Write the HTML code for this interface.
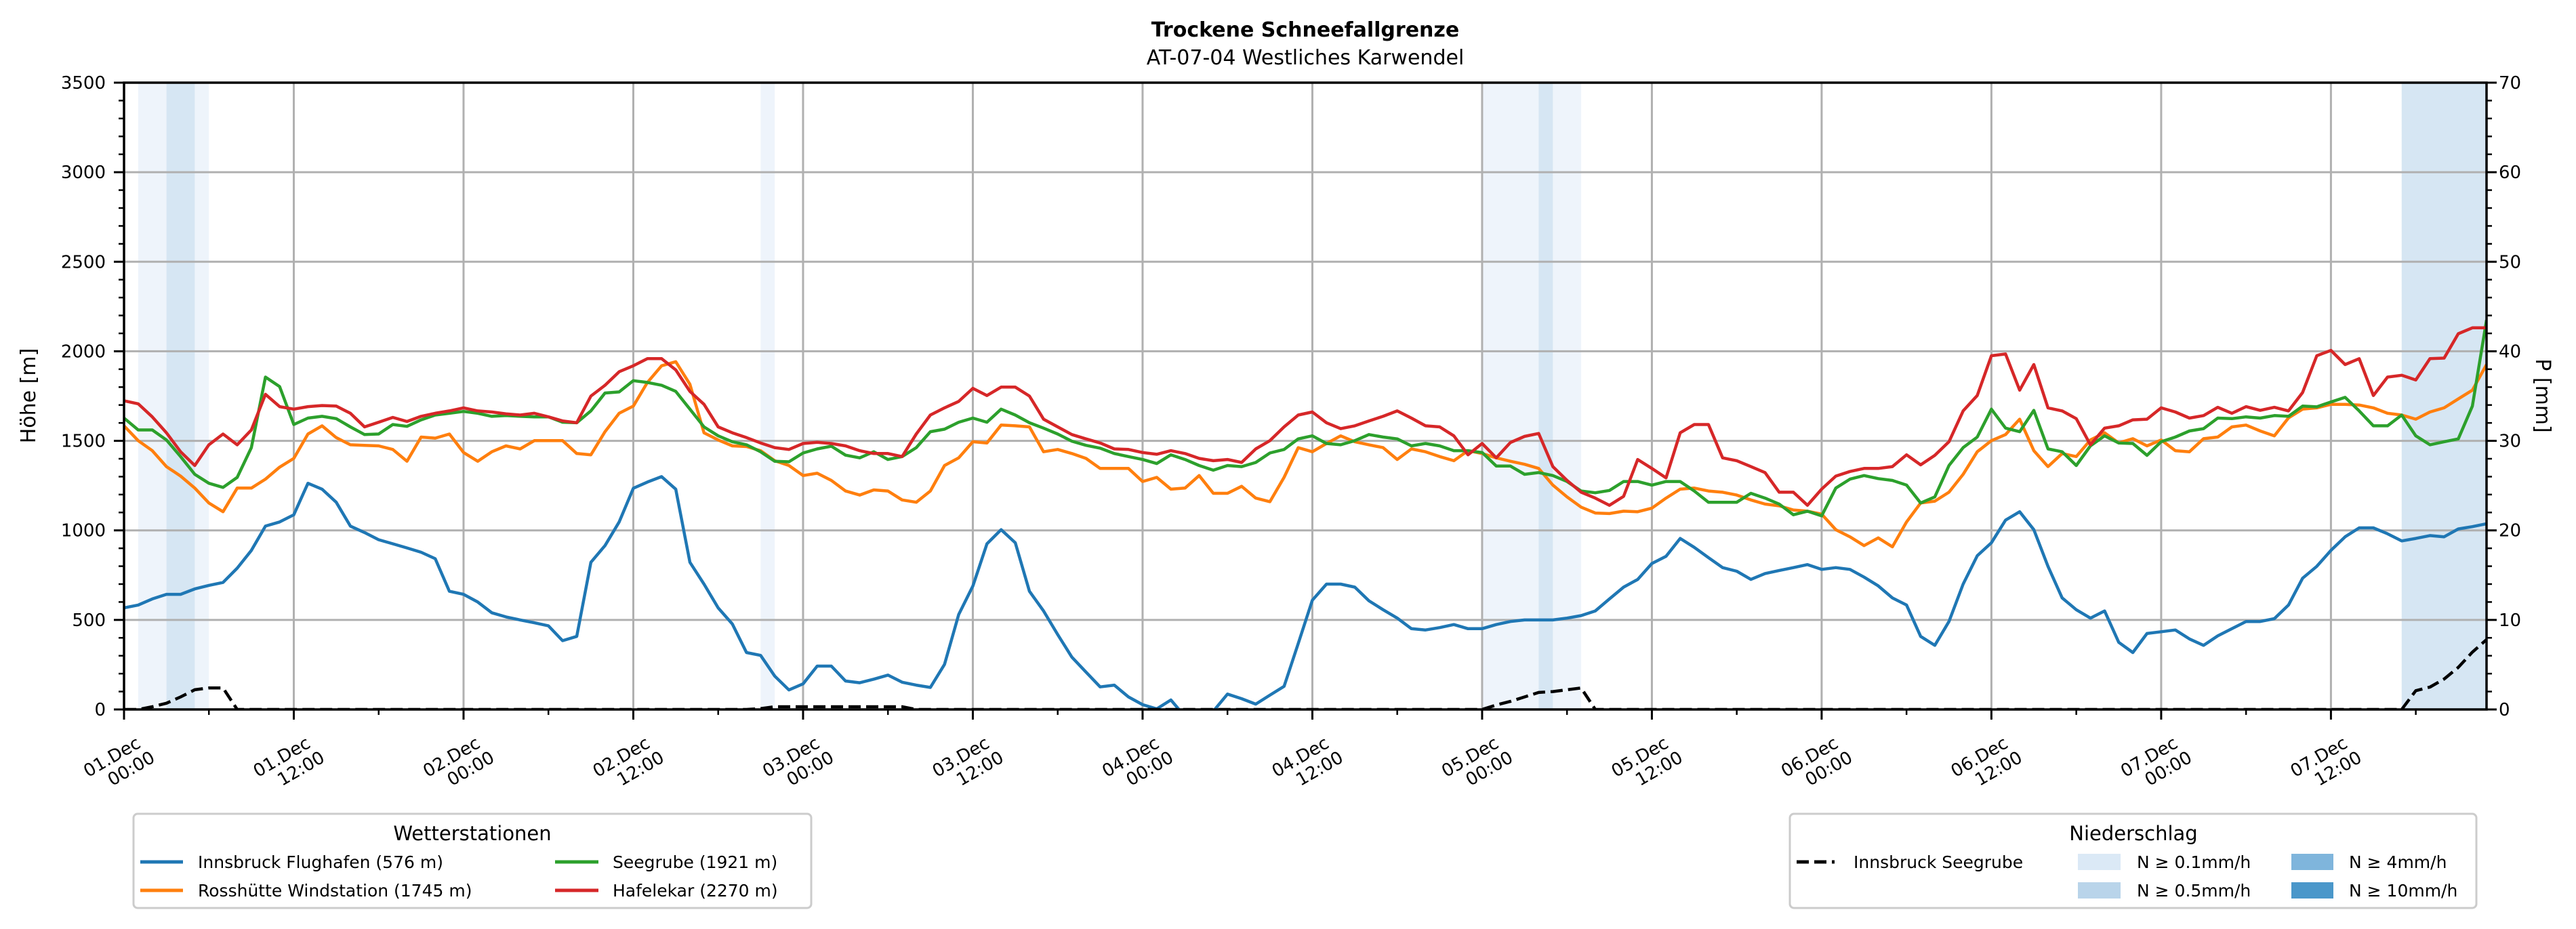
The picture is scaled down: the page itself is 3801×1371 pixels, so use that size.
<!DOCTYPE html>
<html><head><meta charset="utf-8"><title>Trockene Schneefallgrenze</title>
<style>
html,body{margin:0;padding:0;background:#fff;}
svg{display:block;font-family:"DejaVu Sans","Liberation Sans",sans-serif;}
</style></head>
<body>
<svg id="chart" xmlns="http://www.w3.org/2000/svg" width="3801" height="1371" viewBox="0 0 3801 1371">
<rect width="3801" height="1371" fill="#fff"/>
<text x="1926" y="54" text-anchor="middle" font-size="30" font-weight="bold">Trockene Schneefallgrenze</text>
<text x="1926" y="95" text-anchor="middle" font-size="30">AT-07-04 Westliches Karwendel</text>
<g id="bands"></g>
<g id="grid"></g>
<g id="series"></g>
<g id="axes"></g>
<text transform="translate(52,584) rotate(-90)" text-anchor="middle" font-size="30">Höhe [m]</text>
<text transform="translate(3742,584) rotate(90)" text-anchor="middle" font-size="30">P [mm]</text>
<g>
<rect x="197" y="1201" width="1000" height="139" rx="6" fill="#fff" stroke="#cccccc" stroke-width="3"/>
<text x="697" y="1240" text-anchor="middle" font-size="29">Wetterstationen</text>
<line x1="207" y1="1272" x2="270" y2="1272" stroke="#1f77b4" stroke-width="5"/>
<text x="292" y="1281" font-size="25">Innsbruck Flughafen (576 m)</text>
<line x1="207" y1="1314" x2="270" y2="1314" stroke="#ff7f0e" stroke-width="5"/>
<text x="292" y="1323" font-size="25">Rosshütte Windstation (1745 m)</text>
<line x1="819" y1="1272" x2="883" y2="1272" stroke="#2ca02c" stroke-width="5"/>
<text x="904" y="1281" font-size="25">Seegrube (1921 m)</text>
<line x1="819" y1="1314" x2="883" y2="1314" stroke="#d62728" stroke-width="5"/>
<text x="904" y="1323" font-size="25">Hafelekar (2270 m)</text>
</g>
<g>
<rect x="2641" y="1201" width="1013" height="139" rx="6" fill="#fff" stroke="#cccccc" stroke-width="3"/>
<text x="3148" y="1240" text-anchor="middle" font-size="29">Niederschlag</text>
<line x1="2651" y1="1272" x2="2707" y2="1272" stroke="#000" stroke-width="5" stroke-dasharray="18,8"/>
<text x="2735" y="1281" font-size="25">Innsbruck Seegrube</text>
<rect x="3066" y="1260" width="63" height="24" fill="#dbe9f6"/>
<text x="3153" y="1281" font-size="25">N ≥ 0.1mm/h</text>
<rect x="3066" y="1302" width="63" height="24" fill="#b9d4ea"/>
<text x="3153" y="1323" font-size="25">N ≥ 0.5mm/h</text>
<rect x="3381" y="1260" width="62" height="24" fill="#7fb5dc"/>
<text x="3466" y="1281" font-size="25">N ≥ 4mm/h</text>
<rect x="3381" y="1302" width="62" height="24" fill="#4a97ca"/>
<text x="3466" y="1323" font-size="25">N ≥ 10mm/h</text>
</g>
</svg>
<script>
const innsbruck = [567,583,617,643,643,673,693,709,789,888,1024,1047,1087,1263,1230,1157,1024,988,948,925,902,878,842,660,643,600,540,517,500,484,467,384,408,822,915,1047,1235,1270,1300,1230,822,700,567,477,318,302,186,109,143,242,242,159,149,169,
192,152,136,123,252,530,689,925,1004,931,660,550,418,292,209,126,136,70,27,3,53,-40,-40,-10,86,60,30,80,129,368,610,700,700,683,607,557,510,451,444,457,474,451,451,474,491,500,500,500,510,524,550,617,683,726,815,855,955,
905,848,792,772,726,759,776,792,809,782,792,782,739,690,623,583,408,358,491,700,858,931,1057,1104,1004,799,623,557,510,550,375,318,424,434,444,394,358,411,451,491,491,507,583,733,799,888,964,1014,1014,981,941,955,971,964,1008,1021,1037];
const rosshuette = [1584,1501,1445,1356,1303,1236,1153,1104,1236,1236,1286,1353,1402,1538,1584,1518,1478,1475,1472,1452,1386,1521,1515,1538,1435,1386,1439,1472,1455,1501,1501,1501,1429,1422,1551,1654,1694,1826,1919,1942,1816,1545,1505,1472,1468,1445,1389,1362,1306,1319,1279,1220,1197,1226,
1220,1170,1157,1220,1362,1405,1495,1488,1588,1584,1578,1439,1452,1429,1402,1346,1346,1346,1273,1296,1230,1236,1306,1207,1207,1246,1180,1160,1296,1462,1439,1485,1528,1495,1478,1462,1396,1455,1439,1412,1389,1445,1429,1405,1386,1369,1346,1253,1187,1130,1097,1094,1107,1104,1124,1180,1230,
1236,1220,1213,1197,1170,1147,1137,1114,1107,1091,1004,964,915,958,908,1047,1153,1163,1213,1313,1439,1501,1535,1621,1445,1356,1429,1412,1505,1545,1488,1512,1472,1505,1445,1439,1512,1521,1578,1588,1555,1528,1628,1677,1684,1704,1704,1700,1684,1654,1644,1621,1661,1684,1734,1783,1926];
const seegrube = [1627,1561,1561,1505,1412,1313,1263,1240,1296,1462,1856,1803,1591,1627,1637,1624,1578,1535,1538,1591,1581,1617,1644,1654,1664,1654,1637,1641,1637,1634,1634,1604,1601,1667,1767,1773,1836,1826,1810,1776,1677,1578,1528,1495,1478,1439,1386,1383,1432,1455,1470,1420,1405,1439,
1396,1412,1462,1551,1565,1604,1627,1604,1677,1644,1601,1571,1538,1498,1475,1459,1429,1412,1396,1373,1422,1396,1362,1336,1362,1356,1379,1432,1452,1511,1528,1485,1478,1501,1535,1521,1511,1472,1485,1472,1445,1445,1435,1359,1359,1313,1323,1306,1273,1220,1210,1223,1273,1273,1253,1273,1273,
1220,1157,1157,1157,1207,1180,1147,1087,1107,1081,1236,1286,1306,1289,1279,1253,1153,1187,1362,1462,1521,1677,1571,1551,1670,1455,1439,1362,1472,1528,1488,1485,1419,1495,1521,1555,1568,1627,1624,1634,1627,1641,1637,1694,1690,1717,1743,1667,1584,1584,1644,1528,1478,1495,1511,1694,2174];
const hafelekar = [1724,1707,1634,1545,1439,1362,1478,1538,1478,1561,1760,1691,1677,1691,1697,1694,1654,1578,1604,1631,1608,1637,1654,1667,1684,1667,1661,1651,1644,1654,1634,1611,1601,1750,1810,1886,1919,1959,1959,1896,1776,1704,1578,1545,1518,1488,1462,1452,1485,1492,1485,1472,1445,1429,
1429,1412,1538,1644,1684,1720,1793,1753,1800,1800,1750,1621,1578,1535,1511,1488,1455,1452,1435,1425,1445,1429,1402,1389,1396,1379,1455,1501,1578,1644,1661,1601,1568,1584,1611,1637,1667,1627,1584,1578,1528,1422,1485,1405,1491,1525,1541,1356,1279,1213,1180,1140,1190,1396,1346,1293,1545,
1591,1591,1405,1389,1356,1323,1213,1213,1140,1230,1303,1329,1346,1346,1356,1422,1366,1419,1495,1667,1753,1975,1985,1783,1926,1684,1667,1624,1478,1571,1584,1617,1621,1684,1661,1627,1641,1687,1654,1691,1670,1687,1667,1770,1975,2005,1926,1959,1753,1856,1866,1840,1959,1962,2098,2131,2131];
const precip = [0,0,0.3,0.7,1.4,2.2,2.4,2.4,0,0, 0,0,0,0,0,0,0,0,0,0, 0,0,0,0,0,0,0,0,0,0, 0,0,0,0,0,0,0,0,0,0, 0,0,0,0,0,0.1,0.3,0.3,0.3,0.3,
0.3,0.3,0.3,0.3,0.3,0.3,0,0,0,0, 0,0,0,0,0,0,0,0,0,0, 0,0,0,0,0,0,0,0,0,0, 0,0,0,0,0,0,0,0,0,0, 0,0,0,0,0,0,0,0.5,0.9,1.4,
1.9,2.0,2.2,2.4,0,0,0,0,0,0, 0,0,0,0,0,0,0,0,0,0, 0,0,0,0,0,0,0,0,0,0, 0,0,0,0,0,0,0,0,0,0, 0,0,0,0,0,0,0,0,0,0,
0,0,0,0,0,0,0,0,0,0, 0,0,2.1,2.5,3.4,4.7,6.4,7.8];
const bandStart = [1, 3, 45, 96, 100, 161];
const bandEnd = [6, 5, 46, 103, 101, 167];
const bandLevel = [0, 1, 0, 0, 1, 1];
const yTicks = [0,500,1000,1500,2000,2500,3000,3500];
const y2Ticks = [0,10,20,30,40,50,60,70];
const xTickDays = ["01.Dec","01.Dec","02.Dec","02.Dec","03.Dec","03.Dec","04.Dec","04.Dec","05.Dec","05.Dec","06.Dec","06.Dec","07.Dec","07.Dec"];
const xTickTimes = ["00:00","12:00","00:00","12:00","00:00","12:00","00:00","12:00","00:00","12:00","00:00","12:00","00:00","12:00"];

const NS = "http://www.w3.org/2000/svg";
const L = 183, R = 3669, T = 122, B = 1047;
const HMAX = 167, YMAX = 3500, PMAX = 70;
const xS = h => L + h * (R - L) / HMAX;
const yS = v => B - v * (B - T) / YMAX;
const pS = p => B - p * (B - T) / PMAX;
function mk(tag, attrs, parent) {
  const e = document.createElementNS(NS, tag);
  for (const k in attrs) e.setAttribute(k, attrs[k]);
  parent.appendChild(e);
  return e;
}
const bandsG = document.getElementById('bands');
const gridG = document.getElementById('grid');
const seriesG = document.getElementById('series');
const axesG = document.getElementById('axes');
const bandColors = ['#eef4fb', '#d6e6f3'];

bandStart.forEach((s, i) => {
  const r = mk('rect', {x: xS(s), y: T, width: xS(bandEnd[i]) - xS(s), height: B - T, fill: bandColors[bandLevel[i]]}, bandsG);
  
  
});

yTicks.forEach(v => {
  const g = mk('line', {x1: L, x2: R, y1: yS(v), y2: yS(v), stroke: '#b0b0b0', 'stroke-width': 3}, gridG);
  
  
});
xTickDays.forEach((d, i) => {
  const x = xS(i * 12);
  const g = mk('line', {x1: x, x2: x, y1: T, y2: B, stroke: '#b0b0b0', 'stroke-width': 3}, gridG);
  
  
});

const defs = mk('defs', {}, document.getElementById('chart'));
const cp = mk('clipPath', {id: 'plotclip'}, defs);
mk('rect', {x: L, y: T, width: R - L, height: B - T}, cp);
seriesG.setAttribute('clip-path', 'url(#plotclip)');

function line(arr, scale, color, name, dash) {
  const pts = arr.map((v, i) => xS(i).toFixed(1) + ',' + scale(v).toFixed(1)).join(' ');
  const attrs = {points: pts, fill: 'none', stroke: color, 'stroke-width': 4.5, 'stroke-linejoin': 'round'};
  if (dash) attrs['stroke-dasharray'] = dash;
  const p = mk('polyline', attrs, seriesG);
  
  
}
line(innsbruck, yS, '#1f77b4', 'series-innsbruck-flughafen');
line(rosshuette, yS, '#ff7f0e', 'series-rosshuette-windstation');
line(seegrube, yS, '#2ca02c', 'series-seegrube');
line(hafelekar, yS, '#d62728', 'series-hafelekar');
line(precip, pS, '#000000', 'series-precip-seegrube', '18,8');

// frame
const fr = mk('rect', {x: L, y: T, width: R - L, height: B - T, fill: 'none', stroke: '#000', 'stroke-width': 3.5}, axesG);



yTicks.forEach(v => {
  const y = yS(v);
  const t = mk('line', {x1: L - 15, x2: L, y1: y, y2: y, stroke: '#000', 'stroke-width': 3}, axesG);
  
  
  const lb = mk('text', {x: L - 27, y: y + 9, 'text-anchor': 'end', 'font-size': 26}, axesG);
  lb.textContent = v;
  
  
});
for (let v = 100; v < YMAX; v += 100) {
  if (v % 500 === 0) continue;
  const t = mk('line', {x1: L - 8, x2: L, y1: yS(v), y2: yS(v), stroke: '#000', 'stroke-width': 2.5}, axesG);
  
  
}
y2Ticks.forEach(v => {
  const y = pS(v);
  const t = mk('line', {x1: R, x2: R + 15, y1: y, y2: y, stroke: '#000', 'stroke-width': 3}, axesG);
  
  
  const lb = mk('text', {x: R + 18, y: y + 9, 'text-anchor': 'start', 'font-size': 26}, axesG);
  lb.textContent = v;
  
  
});
for (let v = 2; v < PMAX; v += 2) {
  if (v % 10 === 0) continue;
  const t = mk('line', {x1: R, x2: R + 8, y1: pS(v), y2: pS(v), stroke: '#000', 'stroke-width': 2.5}, axesG);
  
  
}
xTickDays.forEach((d, i) => {
  const x = xS(i * 12);
  const t = mk('line', {x1: x, x2: x, y1: B, y2: B + 15, stroke: '#000', 'stroke-width': 3}, axesG);
  
  
  const mt = mk('line', {x1: xS(i * 12 + 6), x2: xS(i * 12 + 6), y1: B, y2: B + 8, stroke: '#000', 'stroke-width': 2.5}, axesG);
  
  
  const g = mk('g', {transform: 'translate(' + (x - 4) + ',1125) rotate(-30)'}, axesG);
  
  
  const t1 = mk('text', {x: -8, y: -5, 'text-anchor': 'middle', 'font-size': 26}, g);
  t1.textContent = d;
  const t2 = mk('text', {x: 8, y: 24, 'text-anchor': 'middle', 'font-size': 26}, g);
  t2.textContent = xTickTimes[i];
});
</script>
</body></html>
